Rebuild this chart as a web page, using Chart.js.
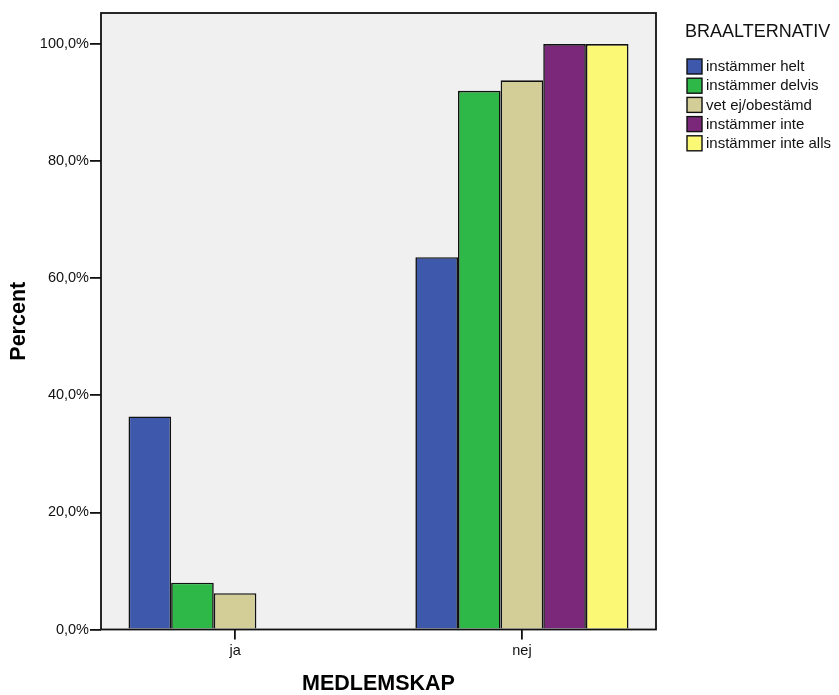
<!DOCTYPE html>
<html>
<head>
<meta charset="utf-8">
<script src="https://cdn.jsdelivr.net/npm/chart.js@4.4.1/dist/chart.umd.min.js"></script>
<style>
  html, body { margin: 0; padding: 0; background: #fff; }
  #wrap { width: 839px; height: 695px; }
</style>
</head>
<body>
<div id="wrap"><canvas id="chart" width="839" height="695"></canvas></div>
<script>
// Bar chart: share per answer alternative, split by membership

const categories = ['ja', 'nej'];
const seriesNames = ['instämmer helt', 'instämmer delvis', 'vet ej/obestämd', 'instämmer inte', 'instämmer inte alls'];
const seriesColors = ['#3e58ac', '#2eb848', '#d3ce98', '#7b287b', '#fbf875'];

const helt = [36.4, 63.6];
const delvis = [8.0, 92.0];
const vetEj = [6.2, 93.8];
const inte = [0, 100];
const inteAlls = [0, 100];

const yTicks = [0, 20, 40, 60, 80, 100];

const FONT = "'Liberation Sans', Arial, sans-serif";

// Grey plot background + frame around the chart area
const framePlugin = {
  id: 'frame',
  beforeDatasetsDraw(chart) {
    const { ctx, chartArea: a } = chart;
    ctx.save();
    ctx.fillStyle = '#f0f0f0';
    ctx.fillRect(a.left, a.top, a.right - a.left, a.bottom - a.top);
    ctx.restore();
  },
  afterDatasetsDraw(chart) {
    const { ctx, chartArea: a } = chart;
    ctx.save();
    ctx.strokeStyle = '#111';
    ctx.lineWidth = 1.8;
    ctx.strokeRect(a.left, a.top, a.right - a.left, a.bottom - a.top);
    ctx.restore();
  }
};

// SPSS-like legend at the top right
const legendPlugin = {
  id: 'spssLegend',
  afterDraw(chart) {
    const ctx = chart.ctx;
    ctx.save();
    ctx.fillStyle = '#111';
    ctx.textBaseline = 'middle';
    ctx.textAlign = 'left';
    ctx.font = '18px ' + FONT;
    ctx.fillText('BRAALTERNATIV', 685, 32);
    ctx.font = '15px ' + FONT;
    chart.data.datasets.forEach((ds, i) => {
      const y = 59 + i * 19.2;
      ctx.fillStyle = ds.backgroundColor;
      ctx.fillRect(687, y, 15, 15);
      ctx.strokeStyle = '#111';
      ctx.lineWidth = 1.4;
      ctx.strokeRect(687, y, 15, 15);
      ctx.fillStyle = '#111';
      ctx.fillText(ds.label, 706, y + 8);
    });
    ctx.restore();
  }
};

const seriesValues = [helt, delvis, vetEj, inte, inteAlls];

new Chart(document.getElementById('chart'), {
  type: 'bar',
  data: {
    labels: categories,
    datasets: seriesNames.map((name, i) => ({
      label: name,
      data: seriesValues[i],
      backgroundColor: seriesColors[i],
      borderColor: '#111',
      borderWidth: 1.6,
      categoryPercentage: 0.743,
      barPercentage: 1.0
    }))
  },
  options: {
    responsive: false,
    animation: false,
    devicePixelRatio: 1,
    layout: { padding: { top: 13, right: 183, left: 0, bottom: 0 } },
    plugins: {
      legend: { display: false },
      tooltip: { enabled: false }
    },
    scales: {
      x: {
        grid: { display: true, drawOnChartArea: false, drawTicks: true, tickLength: 10, color: '#111', lineWidth: 1.8, offset: false },
        border: { display: false },
        ticks: { color: '#111', font: { family: FONT, size: 14.5 }, padding: 3 },
        title: {
          display: true, text: 'MEDLEMSKAP', color: '#000',
          font: { family: FONT, size: 21.5, weight: 'bold', lineHeight: 1 },
          padding: { top: 0, bottom: 0 }
        },
        afterBuildTicks(scale) {
          // ticks at 235 and 521.7 inside a 101..655.7 frame
          scale._startValue = -0.4674;
          scale._valueRange = 1.9348;
        },
        afterFit(scale) { scale.height = 65.5; }
      },
      y: {
        min: 0,
        max: 105.3,
        grid: { display: true, drawOnChartArea: false, drawTicks: true, tickLength: 11, color: '#111', lineWidth: 1.8 },
        border: { display: false },
        afterBuildTicks(scale) {
          scale.ticks = yTicks.map(v => ({ value: v }));
        },
        ticks: {
          includeBounds: false,
          color: '#111',
          font: { family: FONT, size: 14.5 },
          padding: 1,
          callback: v => v.toFixed(1).replace('.', ',') + '%'
        },
        title: {
          display: true, text: 'Percent', color: '#000',
          font: { family: FONT, size: 21.5, weight: 'bold', lineHeight: 1 },
          padding: { top: 8, bottom: 0 }
        },
        afterFit(scale) { scale.width = 101; }
      }
    }
  },
  plugins: [framePlugin, legendPlugin]
});
</script>
</body>
</html>
